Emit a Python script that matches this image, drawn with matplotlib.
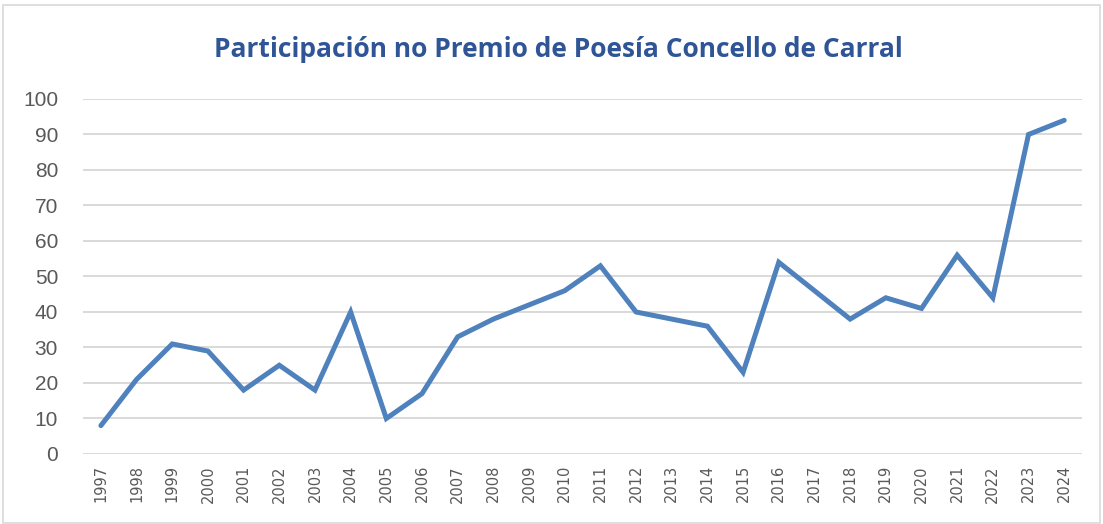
import matplotlib.pyplot as plt
from matplotlib.patches import Rectangle

# Datos
years = [str(y) for y in range(1997, 2025)]
participants = [8, 21, 31, 29, 18, 25, 18, 40, 10, 17, 33, 38, 42, 46, 53,
                40, 38, 36, 23, 54, 46, 38, 44, 41, 56, 44, 90, 94]
y_ticks = list(range(0, 101, 10))

fig = plt.figure(figsize=(11.03, 5.24), dpi=100)
ax = fig.add_axes([0.0753, 0.1336, 0.9057, 0.6775])

x = range(len(years))
ax.plot(x, participants, color="#4F81BD", linewidth=3.6,
        solid_joinstyle="miter", solid_capstyle="round", zorder=3)

ax.set_xlim(-0.5, len(years) - 0.5)
ax.set_ylim(0, 100)
ax.set_yticks(y_ticks)
ax.set_xticks(list(x))
ax.set_xticklabels(years, rotation=90, fontsize=10.5, color="#595959",
                   family="DejaVu Sans")
ax.tick_params(axis="y", labelsize=15, colors="#595959", length=0, pad=18)
ax.tick_params(axis="x", length=0, pad=8)
for lbl in ax.get_yticklabels():
    lbl.set_family("Liberation Sans")

ax.grid(axis="y", color="#D9D9D9", linewidth=1.4)
ax.set_axisbelow(True)
for s in ax.spines.values():
    s.set_visible(False)

fig.text(0.506, 0.906, "Participación no Premio de Poesía Concello de Carral",
         ha="center", va="center", fontsize=19, fontweight="bold",
         color="#2F5597", family="Open Sans")

# marco do gráfico
fig.patches.append(Rectangle((0.003, 0.002), 0.994, 0.988, transform=fig.transFigure,
                             fill=False, edgecolor="#D9D9D9", linewidth=1.2))

fig.savefig("out.png", dpi=100)
